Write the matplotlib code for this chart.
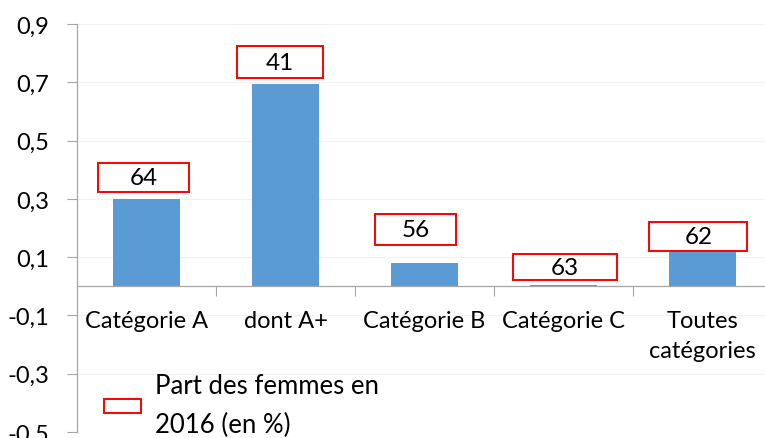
import matplotlib
matplotlib.use("Agg")
import matplotlib.pyplot as plt
from matplotlib.patches import Rectangle, Patch
from matplotlib.ticker import FixedLocator, FuncFormatter

# ---- data ----
categories = ["Catégorie A", "dont A+", "Catégorie B", "Catégorie C", "Toutes\ncatégories"]
values = [0.30, 0.695, 0.08, 0.003, 0.12]
share_women = [64, 41, 56, 63, 62]
legend_label = "Part des femmes en\n2016 (en %)"
yticks = [-0.5, -0.3, -0.1, 0.1, 0.3, 0.5, 0.7, 0.9]

# ---- layout for the label boxes (data units) ----
box_cy = [0.372, 0.769, 0.194, 0.065, 0.170]
box_dx = [-0.02, -0.04, -0.065, 0.01, -0.03]
box_w = [0.655, 0.62, 0.58, 0.75, 0.705]
box_h = [0.10, 0.11, 0.105, 0.09, 0.10]

plt.rcParams['font.family'] = ['Lato', 'DejaVu Sans']
W, H = 765, 439
fig = plt.figure(figsize=(W / 100, H / 100), dpi=100)
ax = fig.add_axes([77 / W, 6 / H, (772 - 77) / W, (433 - 25) / H])

x = list(range(len(categories)))
ax.bar(x, values, width=0.48, color="#5B9BD5", zorder=2)

ax.set_xlim(-0.5, len(categories) - 0.5)
ax.set_ylim(-0.5, 0.9)

# gridlines
for t in yticks:
    ax.axhline(t, color="#EEF2F6", lw=0.8, zorder=0)

ax.yaxis.set_major_locator(FixedLocator(yticks))
ax.yaxis.set_major_formatter(FuncFormatter(lambda v, p: f"{v:.1f}".replace(".", ",")))
ax.tick_params(axis="y", direction="out", length=7, width=0.8, color="#A6A6A6",
               labelsize=17, pad=13)

ax.spines["top"].set_visible(False)
ax.spines["right"].set_visible(False)
ax.spines["left"].set_color("#A6A6A6")
ax.spines["bottom"].set_color("#A6A6A6")
ax.spines["bottom"].set_position(("data", 0))
ax.spines["left"].set_linewidth(0.9)
ax.spines["bottom"].set_linewidth(0.9)

ax.set_xticks(x)
ax.set_xticklabels(categories, va="top", linespacing=1.55)
ax.set_xticks([i + 0.5 for i in x[:-1]], minor=True)
ax.tick_params(axis="x", which="major", length=0, labelsize=17, pad=17)
ax.tick_params(axis="x", which="minor", length=7, width=0.8, color="#A6A6A6", direction="out")

for i, (v, lab) in enumerate(zip(values, share_women)):
    cx = i + box_dx[i]
    cy = box_cy[i]
    ax.add_patch(Rectangle((cx - box_w[i] / 2, cy - box_h[i] / 2), box_w[i], box_h[i],
                           facecolor="white", edgecolor="#FF0000", lw=1.4, zorder=3))
    ax.text(cx, cy, str(lab), ha="center", va="center", fontsize=17.5, zorder=4)

leg = ax.legend(handles=[Patch(facecolor="white", edgecolor="#FF0000", lw=1.4)],
                labels=[legend_label], loc="center left",
                bbox_to_anchor=(104 / W, 1 - 406 / H), bbox_transform=fig.transFigure,
                frameon=False, fontsize=18.5, handlelength=1.45, handleheight=0.47,
                handletextpad=0.52, borderpad=0, borderaxespad=0)
for t in leg.get_texts():
    t.set_linespacing(1.65)

fig.savefig("out.png", dpi=100)
